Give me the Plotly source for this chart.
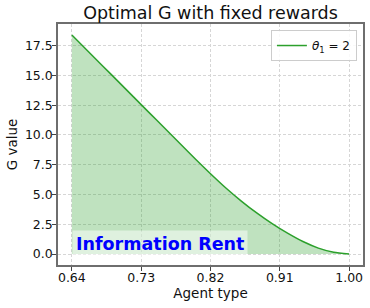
import plotly.graph_objects as go

# Data
agent_type = [0.64, 0.66, 0.68, 0.70, 0.72, 0.74, 0.76, 0.78, 0.80, 0.82,
              0.84, 0.86, 0.88, 0.90, 0.92, 0.94, 0.96, 0.98, 1.00]
g_value = [18.4, 17.1, 15.8, 14.5, 13.2, 11.9, 10.6, 9.3, 8.0, 6.75,
           5.55, 4.45, 3.45, 2.55, 1.75, 1.05, 0.5, 0.15, 0.0]
x_ticks = [0.64, 0.73, 0.82, 0.91, 1.00]
x_tick_labels = ["0.64", "0.73", "0.82", "0.91", "1.00"]
y_ticks = [0.0, 2.5, 5.0, 7.5, 10.0, 12.5, 15.0, 17.5]
y_tick_labels = ["0.0", "2.5", "5.0", "7.5", "10.0", "12.5", "15.0", "17.5"]
series_name = "<i>θ</i><sub>1</sub> = 2"
title_text = "Optimal G with fixed rewards"
annotation_text = "Information Rent"

FONT = "DejaVu Sans"
GREEN = "#2ca02c"

fig = go.Figure()
# filled area (no legend entry)
fig.add_trace(go.Scatter(
    x=agent_type, y=g_value, mode="lines", showlegend=False, hoverinfo="skip",
    line=dict(color="rgba(0,0,0,0)", width=0, shape="spline", smoothing=0.6),
    fill="tozeroy", fillcolor="rgba(44,160,44,0.3)",
))
# line with legend entry
fig.add_trace(go.Scatter(
    x=agent_type, y=g_value, mode="lines", name=series_name,
    line=dict(color=GREEN, width=1.5, shape="spline", smoothing=0.6),
))

axis_common = dict(
    showline=True, mirror=True, linecolor="#6e6e6e", linewidth=1.5,
    ticks="outside", ticklen=4, tickwidth=1, tickcolor="#444",
    showgrid=True, gridcolor="#d6d6d6", gridwidth=1, griddash="3px,2px",
    zeroline=False, automargin=False,
    tickfont=dict(family=FONT, size=12.5, color="#111"),
)

fig.update_xaxes(
    range=[0.622, 1.018], tickvals=x_ticks, ticktext=x_tick_labels,
    ticklabelstandoff=-4,
    title=dict(text="Agent type", font=dict(family=FONT, size=13.5, color="#111"), standoff=2),
    **axis_common,
)
fig.update_yaxes(
    range=[-0.92, 19.32], tickvals=y_ticks, ticktext=y_tick_labels,
    ticklabelstandoff=-3,
    title=dict(text="G value", font=dict(family=FONT, size=13.5, color="#111"), standoff=4),
    **axis_common,
)

fig.add_annotation(
    x=agent_type[0], y=0.85, xref="x", yref="y",
    text="<b>" + annotation_text + "</b>", showarrow=False,
    xanchor="left", yanchor="middle",
    font=dict(family=FONT, size=17.5, color="#0000ff"),
    bgcolor="rgba(255,255,255,0.5)", borderpad=3,
)

fig.update_layout(
    width=370, height=308,
    margin=dict(l=58, r=7, t=24, b=43),
    plot_bgcolor="white", paper_bgcolor="white",
    title=dict(text=title_text, x=0.5, xref="paper", xanchor="center",
               y=1 - 13 / 308, yref="container", yanchor="middle",
               font=dict(family=FONT, size=17.5, color="#111")),
    legend=dict(x=0.98, y=0.975, xanchor="right", yanchor="top",
                bgcolor="rgba(255,255,255,0.85)", bordercolor="#cccccc", borderwidth=1,
                font=dict(family=FONT, size=12, color="#111"),
                itemwidth=30, tracegroupgap=0),
    showlegend=True,
)

fig.write_html("out.html", config={"displayModeBar": False},
               post_script="document.body.style.margin='0px';document.body.style.overflow='hidden';")
